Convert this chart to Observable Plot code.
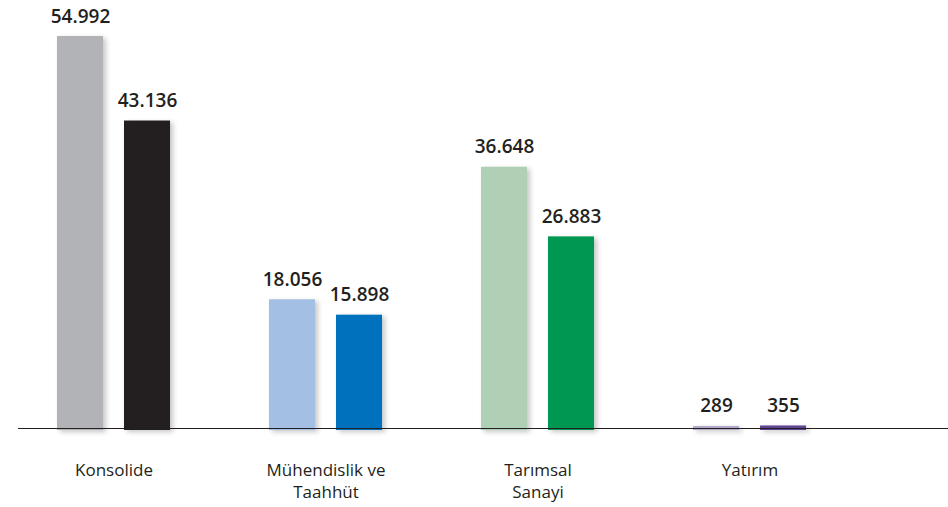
<!DOCTYPE html>
<html>
<head>
<meta charset="utf-8">
<script src="https://cdn.jsdelivr.net/npm/d3@7"></script>
<script src="https://cdn.jsdelivr.net/npm/@observablehq/plot@0.6"></script>
<style>
  html, body { margin: 0; padding: 0; background: #fff; }
  #chart svg { display: block; }
  #chart g[aria-label="bar"] rect { filter: drop-shadow(3px 2px 2.5px rgba(0,0,0,0.22)); }
</style>
</head>
<body>
<div id="chart"></div>
<script>
const groups = ["Konsolide", "Mühendislik ve Taahhüt", "Tarımsal Sanayi", "Yatırım"];
const groupLabels = ["Konsolide", "Mühendislik ve\nTaahhüt", "Tarımsal\nSanayi", "Yatırım"];
const series = ["Seri 1", "Seri 2"];
const values1 = [54992, 18056, 36648, 289];
const values2 = [43136, 15898, 26883, 355];
const colors1 = ["#b1b3b6", "#a3bfe3", "#b0d0b6", "#b3a9cc"];
const colors2 = ["#231f20", "#0071bc", "#009752", "#5f4495"];

const data = [];
groups.forEach((g, i) => {
  data.push({group: g, series: series[0], value: values1[i], color: colors1[i]});
  data.push({group: g, series: series[1], value: values2[i], color: colors2[i]});
});

const tr = d3.formatLocale({decimal: ",", thousands: ".", grouping: [3], currency: ["", "₺"]});
const fmt = tr.format(",d");

const chart = Plot.plot({
  width: 948,
  height: 507,
  marginLeft: 18,
  marginRight: 0,
  marginTop: 36,
  marginBottom: 79,
  style: {fontFamily: "Open Sans", background: "#fff"},
  fx: {domain: groups, paddingInner: 0, paddingOuter: 0.1934, align: 0, round: false, axis: null},
  x: {domain: series, range: [36, 191], paddingInner: 0.313, paddingOuter: 0.313, round: false, axis: null},
  y: {domain: [0, 54992], range: [428, 36], axis: null},
  color: {type: "identity"},
  marks: [
    Plot.barY(data, {fx: "group", x: "series", y: "value", fill: "color", insetBottom: -2}),
    Plot.ruleY([0], {stroke: "#231f20", strokeWidth: 1.5, insetRight: -82, shapeRendering: "crispEdges"}),
    Plot.text(data, {
      fx: "group", x: "series", y: "value", text: d => fmt(d.value),
      dy: -14, lineAnchor: "bottom", fontSize: 19, fontWeight: 600, fill: "#231f20"
    }),
    Plot.text(groups, {
      fx: d => d, y: () => 0, text: (d, i) => groupLabels[i],
      dx: -10.5, dy: 31.5, lineAnchor: "top", lineHeight: 1.3, fontSize: 17, fill: "#231f20"
    })
  ]
});
document.getElementById("chart").appendChild(chart);
</script>
</body>
</html>
